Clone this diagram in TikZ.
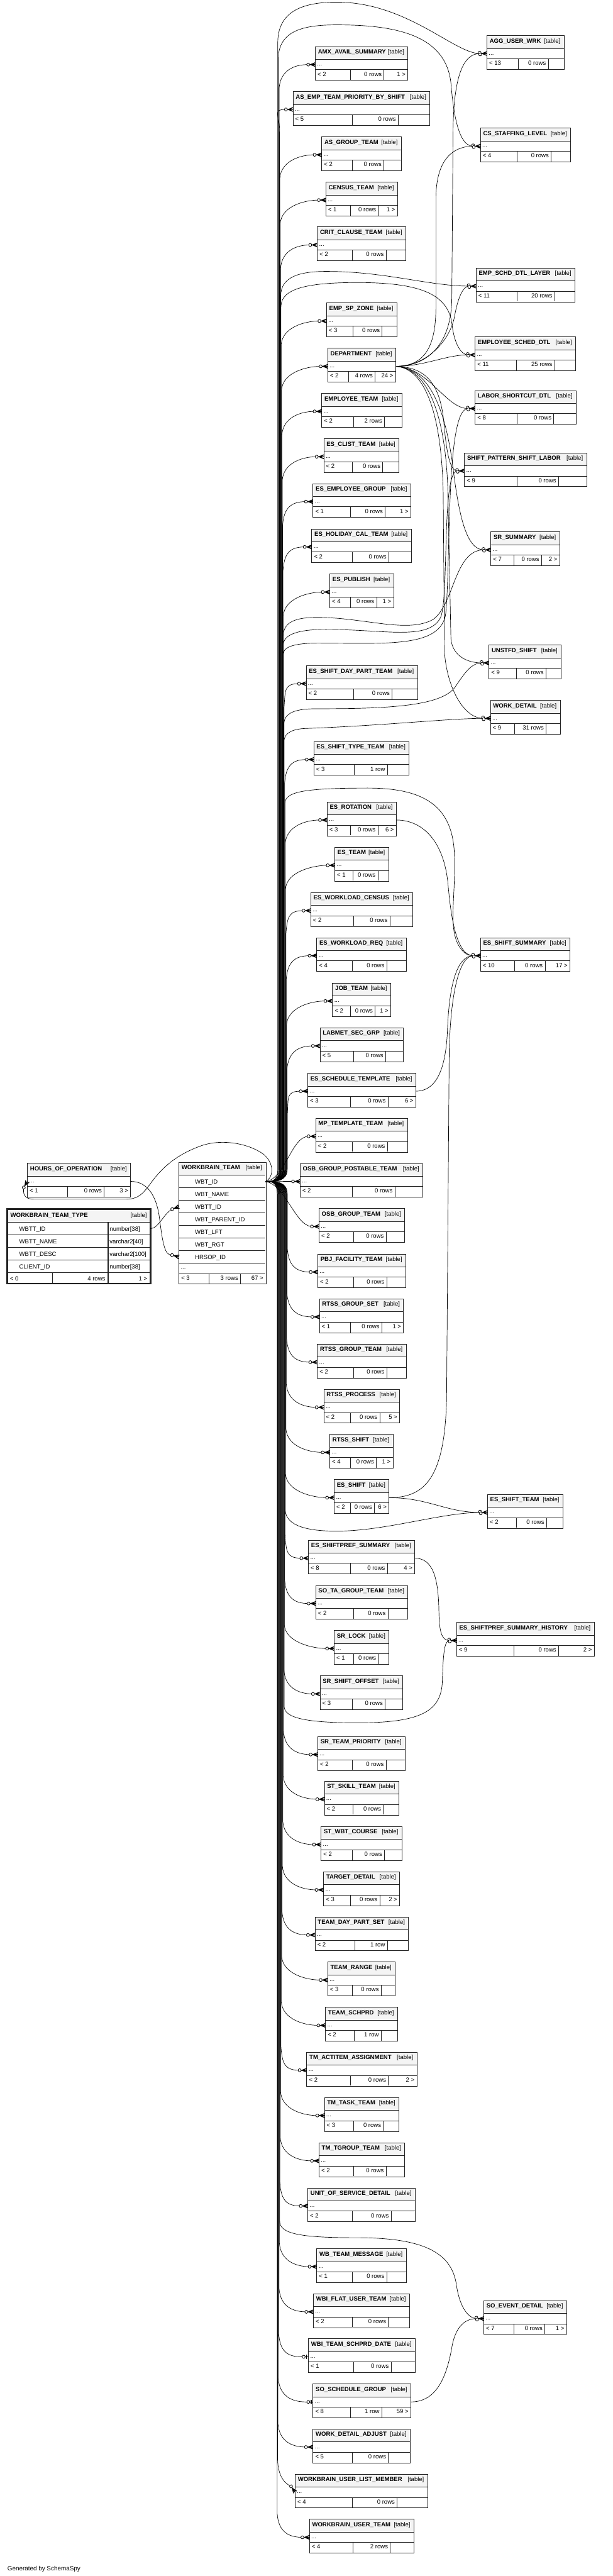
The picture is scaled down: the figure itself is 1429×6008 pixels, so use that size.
\documentclass[tikz,border=0pt]{standalone}
\usepackage{fontspec}
\setmainfont{Liberation Sans}
\usetikzlibrary{calc}
\definecolor{hdrgray}{HTML}{F4F4F4}
\definecolor{rule}{HTML}{222222}

\tikzset{
  tblline/.style={draw=rule, line width=0.55pt},
  ttl/.style={inner sep=0pt, font=\fontsize{7}{8}\selectfont\bfseries},
  txt/.style={inner sep=0pt, font=\fontsize{7}{8}\selectfont},
  link/.style={draw=black, line width=0.5pt},
  crow/.style={draw=black, line width=1pt},
  ring/.style={draw=black, fill=white, line width=0.6pt}
}

% id, left, top, right, split1, split2, name, rows left, rows mid
\newcommand\dbtable[9]{%
  \node[inner sep=0pt, minimum width={(#4-#2)*0.5pt}, minimum height=39pt, anchor=north west] (#1) at (#2,#3) {};
  \fill[hdrgray] (#1.north west) rectangle ([yshift=-15pt]#1.north east);
  \draw[tblline] (#1.north west) rectangle (#1.south east)
    ([yshift=-15pt]#1.north west) -- ([yshift=-15pt]#1.north east)
    ([yshift=-27pt]#1.north west) -- ([yshift=-27pt]#1.north east)
    (#5,{#3+54}) -- (#5,{#3+78}) (#6,{#3+54}) -- (#6,{#3+78});
  \node[ttl, anchor=base west] at ([xshift=3pt,yshift=-8.5pt]#1.north west) {#7};
  \node[txt, anchor=base east] at ([xshift=-4pt,yshift=-8.5pt]#1.north east) {[table]};
  \node[txt, anchor=base west] at ([xshift=2pt,yshift=-22.5pt]#1.north west) {...};
  \node[txt, anchor=base west] at ([xshift=2.5pt,yshift=-34.5pt]#1.north west) {#8};
  \node[txt, anchor=base east] at ({#6-5},{#3+69}) {#9};
  \coordinate (#1-w) at ([yshift=-21pt]#1.north west);
  \coordinate (#1-e) at ([yshift=-21pt]#1.north east);
  \coordinate (#1-c) at ([xshift=-8.25pt]#1-w);
}
\newcommand\footright[2]{%
  \node[txt, anchor=base east] at ([xshift=-2.5pt,yshift=-34.5pt]#1.north east) {#2};}

\newcommand\crowat[2]{%
  \begin{scope}[shift={(#1)}, rotate=#2]
    \draw[crow] (-6.5pt,0pt) -- (0pt,0pt) (-5.5pt,0pt) -- (0pt,2.2pt) (-5.5pt,0pt) -- (0pt,-2.2pt);
    \draw[ring] (-8.25pt,0pt) circle (1.75pt);
  \end{scope}}
\newcommand\crowtwo[1]{%
  \begin{scope}[shift={(#1)}]
    \draw[crow] (-6.5pt,0pt) -- (0pt,0pt) (-5.5pt,0pt) -- (0pt,2.2pt) (-5.5pt,0pt) -- (0pt,-2.2pt);
    \draw[ring] (-8.6pt,1pt) circle (1.75pt);
    \draw[ring] (-7.9pt,-1pt) circle (1.75pt);
  \end{scope}}
\newcommand\oneat[1]{%
  \begin{scope}[shift={(#1)}]
    \draw[link] (-9pt,0pt) -- (0pt,0pt);
    \draw[crow] (-2.2pt,2.4pt) -- (-2.2pt,-2.4pt);
    \draw[ring] (-5.5pt,0pt) circle (1.75pt);
  \end{scope}}

% WBT_ID fans out along the bundle, then turns into the child
\newcommand\teamlink[3]{%
  \draw[link] (wbt-id) .. controls ({(619.6+#2)/2},2755.6) and (#2,2755.6) .. (#2,{2755.6-30*#3})
    -- ($(#2,0 |- #1-c)+(0,{55*#3})$)
    .. controls ($(#2,0 |- #1-c)+(3,{15*#3})$) and ($(#1-c)+(-35,0)$) .. (#1-c);}

\begin{document}
\begin{tikzpicture}[x=0.5pt, y=-0.5pt]
\fill[white] (0,0) rectangle (1429,6008);
\useasboundingbox (0,0) rectangle (1429,6008);

\dbtable{amx}{735.5}{108.6}{950.7}{817.4}{896}{AMX\_AVAIL\_SUMMARY}{< 2}{0 rows} \footright{amx}{1 >}
\dbtable{asemp}{683.6}{213.3}{1002}{822}{929}{AS\_EMP\_TEAM\_PRIORITY\_BY\_SHIFT}{< 5}{0 rows}
\dbtable{asgrp}{750.5}{319}{935.2}{822.3}{895.5}{AS\_GROUP\_TEAM}{< 2}{0 rows}
\dbtable{census}{760.2}{424.6}{926.5}{817.4}{882.9}{CENSUS\_TEAM}{< 1}{0 rows} \footright{census}{1 >}
\dbtable{crit}{740.3}{529.3}{945.9}{822.3}{900.8}{CRIT\_CLAUSE\_TEAM}{< 2}{0 rows}
\dbtable{empsp}{761.7}{706.7}{925}{823.7}{891.6}{EMP\_SP\_ZONE}{< 3}{0 rows}
\dbtable{dept}{764.6}{812.4}{922.1}{813.5}{875}{DEPARTMENT}{< 2}{4 rows} \footright{dept}{24 >}
\dbtable{empteam}{750.5}{917.5}{936.7}{824.2}{896.9}{EMPLOYEE\_TEAM}{< 2}{2 rows}
\dbtable{clist}{755.4}{1023.2}{929.9}{822.3}{893}{ES\_CLIST\_TEAM}{< 2}{0 rows}
\dbtable{empgrp}{730.2}{1127.9}{957.5}{817.4}{898.4}{ES\_EMPLOYEE\_GROUP}{< 1}{0 rows} \footright{empgrp}{1 >}
\dbtable{holcal}{727.3}{1233.6}{958.5}{822.3}{907}{ES\_HOLIDAY\_CAL\_TEAM}{< 2}{0 rows}
\dbtable{publish}{769.4}{1338.8}{917.3}{817.4}{878.5}{ES\_PUBLISH}{< 4}{0 rows} \footright{publish}{1 >}
\dbtable{sdpt}{714.2}{1552.5}{973}{824.2}{914.8}{ES\_SHIFT\_DAY\_PART\_TEAM}{< 2}{0 rows}
\dbtable{stype}{732.1}{1729.4}{953.6}{826.6}{903.7}{ES\_SHIFT\_TYPE\_TEAM}{< 3}{1 row}
\dbtable{rot}{763.1}{1870.5}{923.6}{817.4}{881.4}{ES\_ROTATION}{< 3}{0 rows} \footright{rot}{6 >}
\dbtable{esteam}{781.1}{1976.1}{905.6}{823.7}{881.4}{ES\_TEAM}{< 1}{0 rows}
\dbtable{wlcen}{724.8}{2081.8}{962.3}{824.2}{909.5}{ES\_WORKLOAD\_CENSUS}{< 2}{0 rows}
\dbtable{wlreq}{738.9}{2187}{946.8}{822.3}{902.2}{ES\_WORKLOAD\_REQ}{< 4}{0 rows}
\dbtable{job}{775.7}{2292.6}{910.5}{817.4}{875.1}{JOB\_TEAM}{< 2}{0 rows} \footright{job}{1 >}
\dbtable{labmet}{746.6}{2397.3}{940.5}{824.2}{899.8}{LABMET\_SEC\_GRP}{< 5}{0 rows}
\dbtable{schtpl}{718}{2503}{969.1}{817.4}{905.1}{ES\_SCHEDULE\_TEMPLATE}{< 3}{0 rows} \footright{schtpl}{6 >}
\dbtable{mptpl}{736.5}{2608.2}{949.7}{822.3}{903.7}{MP\_TEMPLATE\_TEAM}{< 2}{0 rows}
\dbtable{osbpost}{700.1}{2713.4}{985.6}{822.3}{921.1}{OSB\_GROUP\_POSTABLE\_TEAM}{< 2}{0 rows}
\dbtable{osbgrp}{744.2}{2818.5}{943.4}{824.2}{900.8}{OSB\_GROUP\_TEAM}{< 2}{0 rows}
\dbtable{pbj}{741.3}{2924.7}{945.9}{824.2}{902.2}{PBJ\_FACILITY\_TEAM}{< 2}{0 rows}
\dbtable{rgset}{745.2}{3029.4}{940.5}{817.4}{890.6}{RTSS\_GROUP\_SET}{< 1}{0 rows} \footright{rgset}{1 >}
\dbtable{rgteam}{740.3}{3135}{946.8}{824.2}{902.2}{RTSS\_GROUP\_TEAM}{< 2}{0 rows}
\dbtable{rproc}{755.4}{3240.2}{931.3}{817.4}{885.8}{RTSS\_PROCESS}{< 2}{0 rows} \footright{rproc}{5 >}
\dbtable{rshift}{769.4}{3345.4}{915.8}{817.4}{878}{RTSS\_SHIFT}{< 4}{0 rows} \footright{rshift}{1 >}
\dbtable{esshift}{779.6}{3451}{906.6}{817.4}{873.6}{ES\_SHIFT}{< 2}{0 rows} \footright{esshift}{6 >}
\dbtable{spsum}{719.5}{3592.1}{966.7}{817.4}{903.7}{ES\_SHIFTPREF\_SUMMARY}{< 8}{0 rows} \footright{spsum}{4 >}
\dbtable{sotag}{736.5}{3697.8}{950.7}{824.2}{905.1}{SO\_TA\_GROUP\_TEAM}{< 2}{0 rows}
\dbtable{srlock}{779.6}{3802.9}{906.6}{824.2}{882.9}{SR\_LOCK}{< 1}{0 rows}
\dbtable{sroff}{746.6}{3908.6}{939}{822.3}{898.4}{SR\_SHIFT\_OFFSET}{< 3}{0 rows}
\dbtable{srprio}{741.3}{4050.1}{944.4}{822.3}{900.8}{SR\_TEAM\_PRIORITY}{< 2}{0 rows}
\dbtable{stskill}{756.8}{4154.3}{929.9}{823.7}{894.5}{ST\_SKILL\_TEAM}{< 2}{0 rows}
\dbtable{stwbt}{749.1}{4260}{936.7}{822.3}{896.9}{ST\_WBT\_COURSE}{< 2}{0 rows}
\dbtable{target}{754.9}{4365.7}{931.3}{817.4}{885.8}{TARGET\_DETAIL}{< 3}{0 rows} \footright{target}{2 >}
\dbtable{tdps}{735}{4470.9}{952.2}{827.6}{903.7}{TEAM\_DAY\_PART\_SET}{< 2}{1 row}
\dbtable{trange}{764.6}{4576}{921.1}{822.3}{889.2}{TEAM\_RANGE}{< 3}{0 rows}
\dbtable{tschprd}{759.2}{4681.7}{926.5}{826.1}{889.2}{TEAM\_SCHPRD}{< 2}{1 row}
\dbtable{tmact}{715.6}{4786.4}{971.6}{817.4}{906.1}{TM\_ACTITEM\_ASSIGNMENT}{< 2}{0 rows} \footright{tmact}{2 >}
\dbtable{tmtask}{756.8}{4892}{929.9}{824.2}{894.5}{TM\_TASK\_TEAM}{< 3}{0 rows}
\dbtable{tmtgrp}{744.2}{4997.7}{943.4}{824.2}{900.8}{TM\_TGROUP\_TEAM}{< 2}{0 rows}
\dbtable{uosd}{718}{5102.9}{967.7}{822.3}{912.4}{UNIT\_OF\_SERVICE\_DETAIL}{< 2}{0 rows}
\dbtable{wbmsg}{738.9}{5244.4}{946.8}{822.3}{902.2}{WB\_TEAM\_MESSAGE}{< 1}{0 rows}
\dbtable{wbiflat}{731.1}{5349.8}{954.6}{822.3}{906.1}{WBI\_FLAT\_USER\_TEAM}{< 2}{0 rows}
\dbtable{wbisch}{719.5}{5454.6}{967.7}{824.2}{912.4}{WBI\_TEAM\_SCHPRD\_DATE}{< 1}{0 rows}
\dbtable{sosg}{730.2}{5559.9}{957.5}{817.4}{890.6}{SO\_SCHEDULE\_GROUP}{< 8}{1 row} \footright{sosg}{59 >}
\dbtable{wda}{730.2}{5665.2}{956}{822.3}{906.1}{WORK\_DETAIL\_ADJUST}{< 5}{0 rows}
\dbtable{wulm}{688.5}{5770.4}{996.8}{822.3}{926.5}{WORKBRAIN\_USER\_LIST\_MEMBER}{< 4}{0 rows}
\dbtable{wut}{721.9}{5875.7}{964.8}{823.7}{910.5}{WORKBRAIN\_USER\_TEAM}{< 4}{2 rows}

\dbtable{agg}{1136}{82.9}{1315}{1209}{1279}{AGG\_USER\_WRK}{< 13}{0 rows}
\dbtable{cs}{1120.9}{299}{1330.3}{1205.7}{1285.7}{CS\_STAFFING\_LEVEL}{< 4}{0 rows}
\dbtable{esdl}{1110.7}{625.3}{1340.4}{1205.7}{1293.9}{EMP\_SCHD\_DTL\_LAYER}{< 11}{20 rows}
\dbtable{esdtl}{1108.3}{785.7}{1341.9}{1204.7}{1293.9}{EMPLOYEE\_SCHED\_DTL}{< 11}{25 rows}
\dbtable{lsdtl}{1108.3}{910.8}{1343.3}{1205.7}{1292}{LABOR\_SHORTCUT\_DTL}{< 8}{0 rows}
\dbtable{spsl}{1083.5}{1056.2}{1367.6}{1205.7}{1303}{SHIFT\_PATTERN\_SHIFT\_LABOR}{< 9}{0 rows}
\dbtable{srsum}{1145.1}{1240.4}{1304.6}{1199.4}{1263.4}{SR\_SUMMARY}{< 7}{0 rows} \footright{srsum}{2 >}
\dbtable{unstfd}{1140.7}{1504.1}{1308.4}{1204.7}{1273.5}{UNSTFD\_SHIFT}{< 9}{0 rows}
\dbtable{wdet}{1144.1}{1633.4}{1306}{1200.8}{1274}{WORK\_DETAIL}{< 9}{31 rows}
\dbtable{essum}{1120.9}{2187}{1328.8}{1199.9}{1271.6}{ES\_SHIFT\_SUMMARY}{< 10}{0 rows} \footright{essum}{17 >}
\dbtable{esst}{1137.3}{3485.5}{1312.3}{1204.7}{1275}{ES\_SHIFT\_TEAM}{< 2}{0 rows}
\dbtable{espsh}{1065.1}{3784.1}{1385.5}{1199.4}{1303.1}{ES\_SHIFTPREF\_SUMMARY\_HISTORY}{< 9}{0 rows} \footright{espsh}{2 >}
\dbtable{soed}{1128.6}{5365.6}{1321}{1199.4}{1271.1}{SO\_EVENT\_DETAIL}{< 7}{0 rows} \footright{soed}{1 >}

\dbtable{hoo}{63.8}{2713.3}{303.6}{157.1}{242.9}{HOURS\_OF\_OPERATION}{< 1}{0 rows} \footright{hoo}{3 >}

\node[inner sep=0pt, minimum width={202.2*0.5pt}, minimum height={283*0.5pt}, anchor=north west] (wbt) at (417.4,2711) {};
\fill[hdrgray] (417.4,2711) rectangle (619.6,2741);
\foreach \col [count=\i from 0] in {WBT\_ID, WBT\_NAME, WBTT\_ID, WBT\_PARENT\_ID, WBT\_LFT, WBT\_RGT, HRSOP\_ID} {
  \draw[tblline] (417.4,{2741+29.3*\i}) -- (619.6,{2741+29.3*\i});
  \node[txt, anchor=base west] at (454.5,{2741+29.3*\i+20}) {\col};
}
\draw[tblline] (wbt.north west) rectangle (wbt.south east)
  (417.4,2946.1) -- (619.6,2946.1) (417.4,2970.1) -- (619.6,2970.1)
  (488,2970.1) -- (488,2994) (561.2,2970.1) -- (561.2,2994);
\node[ttl, anchor=base west] at (423.4,2728) {WORKBRAIN\_TEAM};
\node[txt, anchor=base east] at (611.6,2728) {[table]};
\node[txt, anchor=base west] at (421.4,2961) {...};
\node[txt, anchor=base west] at (422.4,2985) {< 3};
\node[txt, anchor=base east] at (556,2985) {3 rows};
\node[txt, anchor=base east] at (614.6,2985) {67 >};
\coordinate (wbt-id) at (619.6,2755.6);
\coordinate (wbt-wbtt-w) at (417.4,2814.3);
\coordinate (wbt-hrsop-w) at (417.4,2931.5);
\coordinate (wbt-wbtt-c) at ([shift={(200:8.25pt)}]wbt-wbtt-w);
\coordinate (wbt-hrsop-c) at ([shift={(165:8.25pt)}]wbt-hrsop-w);

\node[inner sep=0pt, minimum width={333.4*0.5pt}, minimum height={173.3*0.5pt}, anchor=north west] (wbtt) at (17,2820) {};
\fill[hdrgray] (17,2820) rectangle (350.4,2851);
\foreach \col/\typ [count=\i from 0] in {WBTT\_ID/number[38], WBTT\_NAME/varchar2[40], WBTT\_DESC/varchar2[100], CLIENT\_ID/number[38]} {
  \draw[line width=0.9pt, draw=rule] (17,{2851+29.2*\i}) -- (350.4,{2851+29.2*\i});
  \node[txt, anchor=base west] at (44.6,{2851+29.2*\i+20}) {\col};
  \node[txt, anchor=base west] at (255.5,{2851+29.2*\i+20}) {\typ};
}
\draw[line width=0.9pt, draw=rule] (17,2967.8) -- (350.4,2967.8)
  (252.2,2851) -- (252.2,2993.3) (122.8,2967.8) -- (122.8,2993.3);
\draw[line width=1.6pt, draw=rule] (wbtt.north west) rectangle (wbtt.south east);
\node[ttl, anchor=base west] at (24,2839) {WORKBRAIN\_TEAM\_TYPE};
\node[txt, anchor=base east] at (343,2839) {[table]};
\node[txt, anchor=base west] at (23,2987) {< 0};
\node[txt, anchor=base east] at (246,2987) {4 rows};
\node[txt, anchor=base east] at (344,2987) {1 >};
\coordinate (wbtt-id) at (350.4,2865.6);

\node[txt, font=\fontsize{7.25}{8}\selectfont, anchor=base west] (credit) at (17,5995) {Generated by SchemaSpy};

\foreach \tbl/\bx/\sg in {amx/651.2/1, asemp/652/1, asgrp/652.8/1, census/653.7/1, crit/654.5/1,
  empsp/656/1, dept/656.8/1, empteam/657.6/1, clist/658.5/1, empgrp/659.3/1, holcal/660.2/1,
  publish/661/1, sdpt/662.7/1, stype/664.1/1, rot/665.3/1, esteam/666.1/1, wlcen/667/1,
  wlreq/667.8/1, job/668.6/1, labmet/669.5/1, schtpl/670.3/1,
  pbj/670.3/-1, rgset/669.5/-1, rgteam/668.6/-1, rproc/667.8/-1, rshift/667/-1,
  esshift/666.1/-1, spsum/665/-1, sotag/664.1/-1, srlock/663.3/-1, sroff/662.4/-1, srprio/661.3/-1,
  stskill/660.5/-1, stwbt/659.6/-1, target/658.8/-1, tdps/657.9/-1, trange/657.1/-1,
  tschprd/656.2/-1, tmact/655.4/-1, tmtask/654.6/-1, tmtgrp/653.7/-1, uosd/652.9/-1,
  wbmsg/651.8/-1, wbiflat/650.9/-1, wbisch/650.1/-1, sosg/649.2/-1, wda/648.4/-1, wut/646.7/-1}
  \teamlink{\tbl}{\bx}{\sg};
\draw[link] (wbt-id) .. controls (665,2750) and (680,2650.2) .. (mptpl-c);
\draw[link] (wbt-id) -- (osbpost-c);
\draw[link] (wbt-id) .. controls (665,2762) and (690,2860.5) .. (osbgrp-c);
\coordinate (wulm-c2) at ([shift={(125:8.25pt)}]wulm-w);
\draw[link] (wbt-id) .. controls (633,2755.6) and (647.5,2755.6) .. (647.5,2785.6) -- (647.5,5730)
  .. controls (647.5,5770) and (660,5790) .. (wulm-c2);

\draw[link] (wbt-id) .. controls (634,2755.6) and (648,2755.6) .. (648,2725.6) -- (648,100)
  .. controls (648,30) and (700,5) .. (785,5) .. controls (950,5) and (1060,124.9) .. (agg-c);
\draw[link] (wbt-id) .. controls (634,2755.6) and (649,2755.6) .. (649,2725.6) -- (649,140)
  .. controls (649,75) and (700,58) .. (785,58) .. controls (920,58) and (1040,80) .. (1052,194)
  .. controls (1060,290) and (1075,341) .. (cs-c);
\draw[link] (wbt-id) .. controls (637,2755.6) and (655,2755.6) .. (655,2725.6) -- (655,690)
  .. controls (655,645) and (700,633) .. (761,633) .. controls (900,633) and (1000,667) .. (esdl-c);
\draw[link] (wbt-id) .. controls (638,2755.6) and (655.5,2755.6) .. (655.5,2725.6) -- (655.5,715)
  .. controls (655.5,672) and (720,659) .. (834,659) .. controls (990,659) and (1048,690) .. (1055,760)
  .. controls (1060,800) and (1075,827.7) .. (esdtl-c);
\draw[link] (wbt-id) .. controls (640,2755.6) and (660.5,2755.6) .. (660.5,2725.6) -- (660.5,1485)
  .. controls (660.5,1450) and (690,1440) .. (740,1440) .. controls (850,1440) and (950,1478) .. (1010,1445)
  .. controls (1060,1410) and (1060,1282.4) .. (srsum-c);
\draw[link] (wbt-id) .. controls (640,2755.6) and (660.8,2755.6) .. (660.8,2725.6) -- (660.8,1505)
  .. controls (660.8,1478) and (700,1468) .. (760,1468) .. controls (900,1468) and (1000,1495) .. (1028,1440)
  .. controls (1048,1390) and (1030,1098.2) .. (spsl-c);
\draw[link] (wbt-id) .. controls (640,2755.6) and (661.2,2755.6) .. (661.2,2725.6) -- (661.2,1525)
  .. controls (661.2,1505) and (700,1500) .. (740,1500) .. controls (900,1500) and (1030,1512) .. (1040,1430)
  .. controls (1052,1300) and (1040,952.8) .. (lsdtl-c);
\draw[link] (wbt-id) .. controls (641,2755.6) and (662.2,2755.6) .. (662.2,2725.6) -- (662.2,1690)
  .. controls (662.2,1662) and (690,1653) .. (737,1653) .. controls (900,1653) and (1030,1648) .. (1062,1602)
  .. controls (1085,1568) and (1100,1546.1) .. (unstfd-c);
\draw[link] (wbt-id) .. controls (641,2755.6) and (662.5,2755.6) .. (662.5,2725.6) -- (662.5,1730)
  .. controls (662.5,1708) and (685,1700) .. (713,1699) .. controls (900,1692) and (1050,1675.4) .. (wdet-c);
\draw[link] (wbt-id) .. controls (642,2755.6) and (664.7,2755.6) .. (664.7,2725.6) -- (664.7,1875)
  .. controls (664.7,1848) and (700,1838) .. (858,1838) .. controls (990,1838) and (1055,1880) .. (1060,1990)
  .. controls (1064,2090) and (1045,2160) .. (1070,2205) .. controls (1080,2222) and (1090,2229) .. (essum-c);
\draw[link] (wbt-id) .. controls (642,2755.6) and (665.5,2755.6) .. (665.5,2785.6) -- (665.5,3520)
  .. controls (665.5,3560) and (720,3571) .. (785,3571) .. controls (900,3571) and (1030,3527.5) .. (esst-c);
\draw[link] (wbt-id) .. controls (641,2755.6) and (663,2755.6) .. (663,2785.6) -- (663,3980)
  .. controls (663,4008) and (720,4018) .. (834,4018) .. controls (985,4018) and (1030,3990) .. (1032,3920)
  .. controls (1034,3860) and (1036,3826.1) .. (espsh-c);
\draw[link] (wbt-id) .. controls (636,2755.6) and (652.5,2755.6) .. (652.5,2785.6) -- (652.5,5180)
  .. controls (652.5,5210) and (700,5219) .. (834,5219) .. controls (1000,5219) and (1055,5260) .. (1065,5330)
  .. controls (1073,5385) and (1095,5407.6) .. (soed-c);

\draw[link] (dept-e) .. controls (1000,854.4) and (1052,800) .. (1054,700) -- (1057,300)
  .. controls (1059,180) and (1080,124.9) .. (agg-c);
\draw[link] (dept-e) .. controls (990,854.4) and (1016,810) .. (1017,720) -- (1017,460)
  .. controls (1018,380) and (1050,341) .. (cs-c);
\draw[link] (dept-e) .. controls (1000,854.4) and (1050,790) .. (1060,740)
  .. controls (1068,695) and (1080,667.3) .. (esdl-c);
\draw[link] (dept-e) .. controls (990,854.4) and (1040,827.7) .. (esdtl-c);
\draw[link] (dept-e) .. controls (1000,856) and (1040,952.8) .. (lsdtl-c);
\draw[link] (dept-e) .. controls (990,856) and (1025,890) .. (1035,980)
  .. controls (1042,1060) and (1050,1098.2) .. (spsl-c);
\draw[link] (dept-e) .. controls (1000,858) and (1040,950) .. (1058,1100)
  .. controls (1072,1210) and (1090,1282.4) .. (srsum-c);
\draw[link] (dept-e) .. controls (995,858) and (1040,960) .. (1045,1150) -- (1052,1490)
  .. controls (1056,1530) and (1090,1546.1) .. (unstfd-c);
\draw[link] (dept-e) .. controls (990,858) and (1030,960) .. (1034,1150) -- (1037,1520)
  .. controls (1042,1600) and (1080,1675.4) .. (wdet-c);

\draw[link] (rot-e) .. controls (985,1912.5) and (1035,1960) .. (1045,2060)
  .. controls (1052,2140) and (1065,2229) .. (essum-c);
\draw[link] (schtpl-e) .. controls (1010,2545) and (1040,2510) .. (1044,2400)
  .. controls (1048,2300) and (1065,2229) .. (essum-c);
\draw[link] (esshift-e) .. controls (990,3493) and (1040,3450) .. (1042,3250) -- (1048,2450)
  .. controls (1052,2300) and (1075,2229) .. (essum-c);
\draw[link] (esshift-e) .. controls (1000,3493) and (1040,3527.5) .. (esst-c);
\draw[link] (spsum-e) .. controls (1010,3634) and (1023,3680) .. (1024,3760)
  .. controls (1025,3805) and (1030,3826.1) .. (espsh-c);
\draw[link] (sosg-e) .. controls (1010,5602) and (1040,5560) .. (1055,5470)
  .. controls (1065,5420) and (1090,5407.6) .. (soed-c);

\coordinate (hoo-c2) at ([shift={(240:8.25pt)}]hoo-w);
\draw[link] (wbt-id) .. controls (640,2745) and (640,2710) .. (612,2690)
  .. controls (580,2668) and (520,2655) .. (470,2672) .. controls (420,2690) and (385,2715) .. (355,2755)
  .. controls (330,2790) and (320,2797) .. (290,2797) -- (80,2797)
  .. controls (62,2797) and (52,2790) .. (hoo-c2);
\draw[link] (hoo-e) .. controls (345,2755.3) and (365,2790) .. (372,2840)
  .. controls (380,2905) and (385,2928) .. (wbt-hrsop-c);
\draw[link] (wbtt-id) .. controls (370,2865.6) and (382,2830) .. (wbt-wbtt-c);

\foreach \tbl in {amx, asemp, asgrp, census, crit, empsp, dept, empteam, clist, empgrp, holcal,
  publish, sdpt, stype, rot, esteam, wlcen, wlreq, job, labmet, schtpl, mptpl, osbpost, osbgrp,
  pbj, rgset, rgteam, rproc, rshift, esshift, spsum, sotag, srlock, sroff, srprio, stskill, stwbt,
  target, tdps, trange, tschprd, tmact, tmtask, tmtgrp, uosd, wbmsg, wbiflat, wda, wut}
  \crowat{\tbl-w}{0};
\foreach \tbl in {agg, cs, esdl, esdtl, lsdtl, spsl, srsum, unstfd, wdet, essum, esst, espsh, soed}
  \crowtwo{\tbl-w};
\oneat{wbisch-w}
\oneat{sosg-w}
\crowat{wulm-w}{-55}
\crowat{hoo-w}{60}
\crowat{wbt-wbtt-w}{20}
\crowat{wbt-hrsop-w}{-15}
\end{tikzpicture}
\end{document}
